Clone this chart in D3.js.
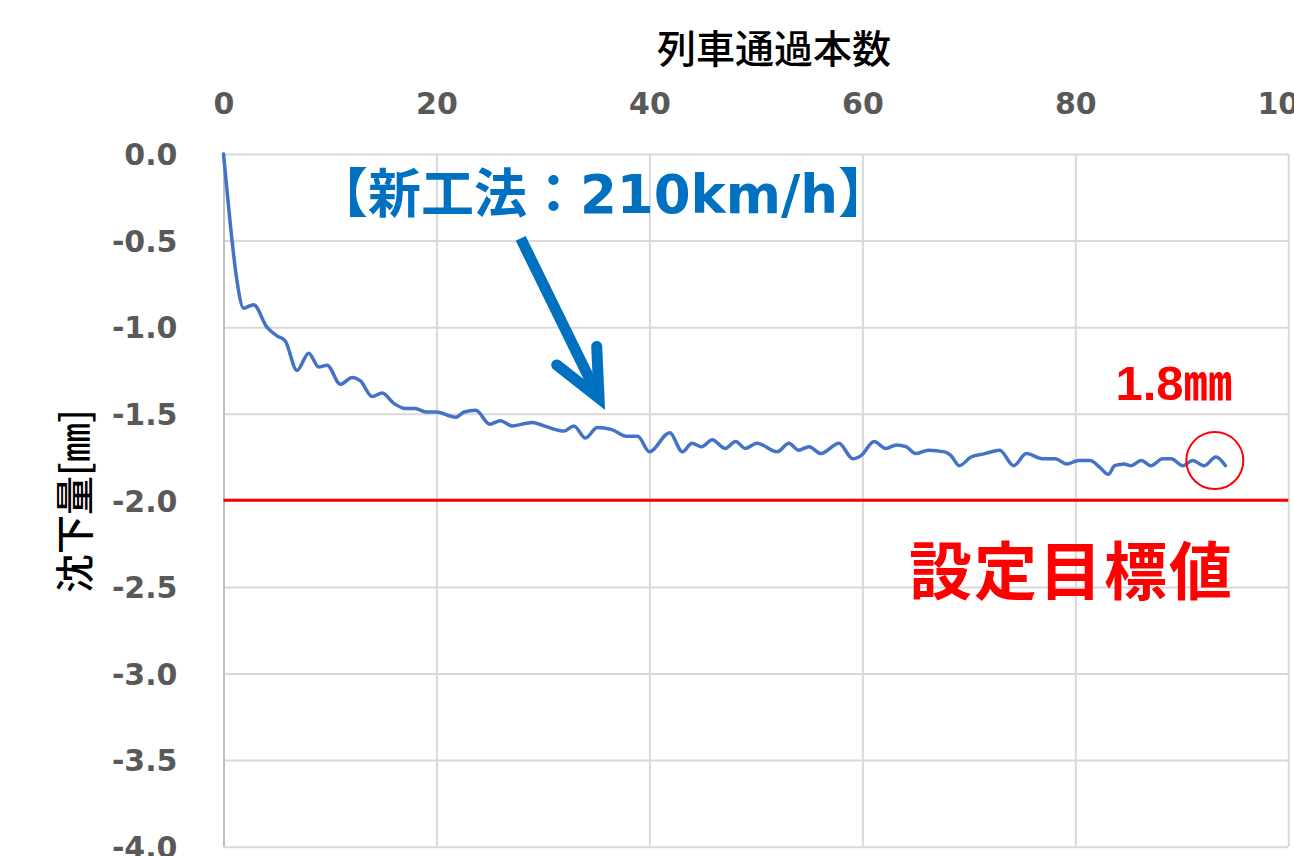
<!DOCTYPE html>
<html><head><meta charset="utf-8">
<script src="https://cdn.jsdelivr.net/npm/d3@7"></script>
<style>html,body{margin:0;padding:0;background:#fff;overflow:hidden}</style>
</head><body><svg id="chart" width="1294" height="856"></svg>
<script>
// ---- data ----
const trainCount = [0,0.63,1.26,1.88,2.82,4.08,5.02,5.8,6.9,8.0,8.94,9.73,10.98,12.08,12.86,13.96,14.9,16.0,17.1,18.0,19.1,20.0,21.8,22.6,23.7,25.0,26.0,27.1,29.0,30.1,32.0,32.9,34.0,35.1,36.4,37.9,38.9,40.0,41.9,43.1,44.0,44.9,45.9,47.1,48.1,49.0,50.1,52.0,53.1,54.0,55.0,56.1,57.8,59.1,59.9,61.1,62.2,63.2,64.1,65.0,66.2,67.7,68.3,69.1,70.2,71.5,72.9,74.2,75.4,76.9,78.1,79.2,80.3,81.4,82.3,83.1,83.7,84.6,85.2,86.2,87.1,88.2,89.0,90.1,91.0,92.1,93.2,94.1];
const settlement = [0,-0.40,-0.73,-0.89,-0.87,-1.00,-1.05,-1.08,-1.25,-1.15,-1.23,-1.22,-1.33,-1.29,-1.31,-1.40,-1.38,-1.44,-1.47,-1.47,-1.49,-1.49,-1.52,-1.49,-1.48,-1.56,-1.54,-1.57,-1.55,-1.57,-1.60,-1.57,-1.64,-1.58,-1.59,-1.63,-1.63,-1.72,-1.61,-1.72,-1.67,-1.69,-1.65,-1.70,-1.66,-1.70,-1.67,-1.72,-1.67,-1.71,-1.69,-1.73,-1.67,-1.76,-1.74,-1.66,-1.70,-1.68,-1.69,-1.73,-1.71,-1.72,-1.74,-1.80,-1.75,-1.73,-1.71,-1.80,-1.73,-1.76,-1.76,-1.79,-1.77,-1.77,-1.81,-1.85,-1.80,-1.79,-1.80,-1.77,-1.80,-1.76,-1.76,-1.80,-1.77,-1.80,-1.75,-1.80];
const xTickValues = [0,20,40,60,80,100];
const xTickLabels = ["0","20","40","60","80","100"];
const yTickValues = [0,-0.5,-1,-1.5,-2,-2.5,-3,-3.5,-4];
const yTickLabels = ["0.0","-0.5","-1.0","-1.5","-2.0","-2.5","-3.0","-3.5","-4.0"];
const targetValue = -2.0;
const highlightPoint = [93.1, -1.77];
const xTitle = "列車通過本数";
const yTitle = "沈下量[㎜]";
const methodLabel = "【新工法：210km/h】";
const targetLabel = "設定目標値";
const finalLabel = "1.8㎜";

// ---- layout ----
const svg = d3.select("#chart");
const L = 223.5, R = 1288.3, T = 154, B = 846.7;
const x = d3.scaleLinear().domain([0,100]).range([L,R]);
const y = d3.scaleLinear().domain([0,-4]).range([T,B]);
const tickFont = "'DejaVu Sans', sans-serif";
const cjk = "'Noto Sans CJK JP', sans-serif";

// y axis + horizontal grid
const gy = svg.append("g").attr("transform",`translate(${L},0)`)
  .call(d3.axisLeft(y).tickValues(yTickValues).tickSize(-(R-L)).tickPadding(46)
    .tickFormat((d,i)=>yTickLabels[i]));
gy.select(".domain").remove();
gy.selectAll(".tick line").attr("stroke","#d9d9d9").attr("stroke-width",2);
gy.selectAll(".tick text").attr("fill","#595959").attr("font-family",tickFont)
  .attr("font-weight","bold").attr("font-size",30).attr("dy","0.36em");

// x axis (top) + vertical grid
const gx = svg.append("g").attr("transform",`translate(0,${T})`)
  .call(d3.axisTop(x).tickValues(xTickValues).tickSize(-(B-T)).tickPadding(40)
    .tickFormat((d,i)=>xTickLabels[i]));
gx.select(".domain").remove();
gx.selectAll(".tick line").attr("stroke",(d)=>d===0?"#bfbfbf":"#d9d9d9").attr("stroke-width",2);
gx.selectAll(".tick text").attr("fill","#595959").attr("font-family",tickFont)
  .attr("font-weight","bold").attr("font-size",30);

// target line
svg.append("line").attr("x1",x(0)).attr("x2",x(100)).attr("y1",y(targetValue)).attr("y2",y(targetValue))
  .attr("stroke","#ff0000").attr("stroke-width",3);

// data line
const data = trainCount.map((v,i)=>[v,settlement[i]]);
svg.append("path").datum(data)
  .attr("d", d3.line().x(d=>x(d[0])).y(d=>y(d[1])).curve(d3.curveMonotoneX))
  .attr("fill","none").attr("stroke","#4472C4").attr("stroke-width",3.5).attr("stroke-linejoin","round")
  .attr("stroke-linecap","round");

// highlight circle
svg.append("circle").attr("cx",x(highlightPoint[0])).attr("cy",y(highlightPoint[1])).attr("r",28.5)
  .attr("fill","none").attr("stroke","#ff0000").attr("stroke-width",2);

// titles
svg.append("text").attr("x",774).attr("y",46).attr("text-anchor","middle").attr("dominant-baseline","central")
  .attr("font-family",cjk).attr("font-weight",500).attr("font-size",39).attr("fill","#000").text(xTitle);
svg.append("text").attr("transform","translate(72,501) rotate(-90)").attr("text-anchor","middle")
  .attr("dominant-baseline","central").attr("font-family",cjk).attr("font-weight",500)
  .attr("font-size",39).attr("fill","#000").text(yTitle);

// annotations
const blue = "#0070C0";
svg.append("text").attr("x",603).attr("y",213).attr("text-anchor","middle")
  .attr("font-family","'DejaVu Sans','Noto Sans CJK JP',sans-serif").attr("font-weight","bold")
  .attr("font-size",53).attr("fill",blue).text(methodLabel);

const a0 = [x(27.91), y(-0.487)], tip = [x(35.27), y(-1.410)];
const w1 = [x(31.29), y(-1.218)], w2 = [x(35.05), y(-1.111)];
const ang = Math.atan2(tip[1]-a0[1], tip[0]-a0[0]);
const shaftEnd = [tip[0]-14*Math.cos(ang), tip[1]-14*Math.sin(ang)];
svg.append("path").attr("d",`M${a0[0]},${a0[1]}L${shaftEnd[0]},${shaftEnd[1]}`)
  .attr("stroke",blue).attr("stroke-width",11).attr("fill","none");
svg.append("path").attr("d",`M${w1[0]},${w1[1]}L${tip[0]},${tip[1]}L${w2[0]},${w2[1]}`)
  .attr("stroke",blue).attr("stroke-width",11).attr("fill","none")
  .attr("stroke-linecap","round").attr("stroke-linejoin","miter").attr("stroke-miterlimit",10);

svg.append("text").attr("x",1071.5).attr("y",566).attr("text-anchor","middle").attr("dominant-baseline","central")
  .attr("font-family",cjk).attr("font-weight","bold").attr("font-size",63).attr("letter-spacing",2)
  .attr("fill","#ff0000").text(targetLabel);

svg.append("text").attr("x",1174).attr("y",400).attr("text-anchor","middle")
  .attr("font-family","'Liberation Sans','Noto Sans CJK JP',sans-serif").attr("font-weight","bold")
  .attr("font-size",49).attr("fill","#ff0000").text(finalLabel);
</script></body></html>
